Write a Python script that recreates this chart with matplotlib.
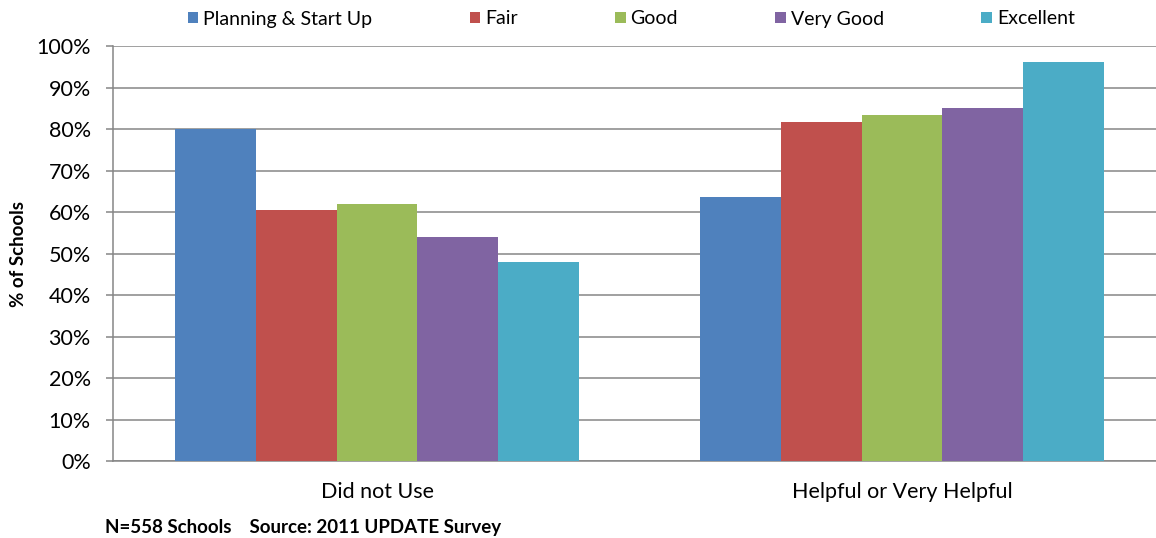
import matplotlib
matplotlib.use("Agg")
import matplotlib.pyplot as plt
import numpy as np

# Survey results: share of schools by usage/helpfulness and school rating
categories = ["Did not Use", "Helpful or Very Helpful"]
series_names = ["Planning & Start Up", "Fair", "Good", "Very Good", "Excellent"]
planning = [80.0, 63.6]
fair = [60.5, 81.8]
good = [62.0, 83.4]
very_good = [54.1, 85.0]
excellent = [48.0, 96.2]
y_ticks = [0, 10, 20, 30, 40, 50, 60, 70, 80, 90, 100]
footnote = "N=558 Schools    Source: 2011 UPDATE Survey"

series = [planning, fair, good, very_good, excellent]
colors = ["#4F81BD", "#C0504D", "#9BBB59", "#8064A2", "#4BACC6"]

plt.rcParams["font.family"] = ["Lato", "DejaVu Sans"]

W, H = 1156, 538
fig = plt.figure(figsize=(W / 100, H / 100), dpi=100)
ax_left, ax_right = 113, 1156
ax_top, ax_bottom = 46, 461.3
ax = fig.add_axes([ax_left / W, 1 - ax_bottom / H,
                   (ax_right - ax_left) / W, (ax_bottom - ax_top) / H])

x = np.arange(len(categories))
bar_w = 0.154
offsets = (np.arange(len(series)) - (len(series) - 1) / 2) * bar_w
handles = []
for vals, off, col, name in zip(series, offsets, colors, series_names):
    b = ax.bar(x + off, vals, width=bar_w, color=col, label=name,
               linewidth=0, zorder=3)
    handles.append(b)

ax.set_ylim(0, 100)
ax.set_xlim(-0.503, 1.484)
ax.set_yticks(y_ticks)
ax.set_yticklabels([f"{t}%" for t in y_ticks], fontsize=15.5)
ax.set_xticks(x)
ax.set_xticklabels(categories, fontsize=15.5)
ax.tick_params(axis="x", length=0, pad=15)
ax.tick_params(axis="y", length=5, width=1.1, color="#868686", pad=11)

ax.grid(axis="y", color="#868686", linewidth=1.1, zorder=0)
for side in ["top", "right"]:
    ax.spines[side].set_visible(False)
for side in ["left", "bottom"]:
    ax.spines[side].set_color("#868686")
    ax.spines[side].set_linewidth(1.1)

ax.set_ylabel("% of Schools", fontsize=13.5, fontweight="bold", labelpad=7)

fig.legend(handles=handles, labels=series_names, loc="center",
           bbox_to_anchor=(0.546, 1 - 19 / H), ncol=5, frameon=False,
           fontsize=14, handlelength=0.55, handleheight=0.55,
           handletextpad=0.25, columnspacing=5.0)

fig.text(105 / W, 1 - 528 / H, footnote, fontsize=13.5, fontweight="bold",
         va="center", ha="left")

fig.savefig("out.png", dpi=100)
